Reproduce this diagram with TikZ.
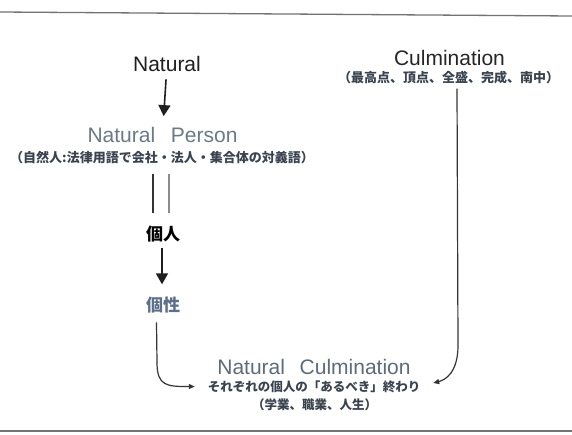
\documentclass[tikz,border=0pt]{standalone}
\usepackage{fontspec}
\setmainfont{Liberation Sans}
\newfontfamily\cjk{Noto Sans CJK JP}
\usetikzlibrary{arrows.meta,calc}
\definecolor{ink}{HTML}{1F1F1F}
\definecolor{culmc}{HTML}{262626}
\definecolor{persc}{HTML}{6C7A88}
\definecolor{nculc}{HTML}{5E6C79}
\definecolor{notec}{HTML}{3A4450}
\definecolor{koseic}{HTML}{5B708A}
\tikzset{
  en/.style={inner sep=0pt, font=\fontsize{21}{25}\selectfont},
  jnote/.style={inner sep=0pt, text=notec, font=\cjk\bfseries\fontsize{13}{15}\selectfont},
  jbig/.style={inner sep=0pt, font=\cjk\bfseries\fontsize{17}{20}\selectfont},
  varr/.style={draw=ink, line width=1.6pt, -{Triangle[length=11pt,width=12pt]}},
  carr/.style={draw=ink!90, line width=1.2pt, -{Triangle[length=6pt,width=5pt]}},
  rule/.style={draw=black!55, line width=1.3pt}
}
\begin{document}
\begin{tikzpicture}[x=1pt,y=-1pt]
\fill[white] (0,0) rectangle (572,434);
\useasboundingbox (0,0) rectangle (572,434);
\draw[rule] (0,12) -- (572,16);
\draw[rule] (0,431) -- (572,431);

\node[en, text=ink] (natural) at (167,64) {Natural};
\node[en, text=persc] (nperson) at (162.5,135) {Natural\hspace{0.75em}Person};
\node[jnote] (npnote) at (162,157.5) {（自然人:法律用語で会社・法人・集合体の対義語）};
\node[jbig, text=black] (kojin) at (163,234) {個人};
\node[jbig, text=koseic] (kosei) at (163,305) {個性};

\node[en, text=culmc] (culm) at (449.5,58) {Culmination};
\node[jnote] (culmnote) at (448.5,78) {（最高点、頂点、全盛、完成、南中）};

\node[en, text=nculc] (ncul) at (314,367) {Natural\hspace{0.7em}Culmination};
\node[jnote, font=\cjk\bfseries\fontsize{12.5}{14}\selectfont] (ncnote) at (314,386.5) {それぞれの個人の「あるべき」終わり};
\node[jnote, font=\cjk\bfseries\fontsize{12.5}{14}\selectfont] (ncnote2) at (314.5,405) {（学業、職業、人生）};

\draw[varr, shorten <=7.5pt, shorten >=11pt] (natural) -- (nperson);
\draw[draw=black!80, line width=1.7pt, shorten <=9.5pt, shorten >=13pt]
  ([xshift=-9pt]npnote.south) -- ([xshift=-10pt]kojin.north);
\draw[draw=black!45, line width=1.4pt, shorten <=9.5pt, shorten >=13pt]
  ([xshift=7pt]npnote.south) -- ([xshift=6pt]kojin.north);
\draw[varr, shorten <=5.5pt, shorten >=12.4pt] ([xshift=-1pt]kojin.south) -- ([xshift=-1pt]kosei.north);

\draw[carr] ([xshift=-6.5pt,yshift=-9pt]kosei.south) -- ++(0.5,40)
  .. controls ++(0,24) and ++(-28,0) .. ([xshift=-12.75pt]ncnote.west);
\draw[carr] ([xshift=8.5pt,yshift=-4pt]culmnote.south) -- ++(1,257)
  .. controls ++(0,27) and ++(12,-3) .. ([xshift=12.75pt,yshift=3.5pt]ncnote.east);
\end{tikzpicture}
\end{document}
